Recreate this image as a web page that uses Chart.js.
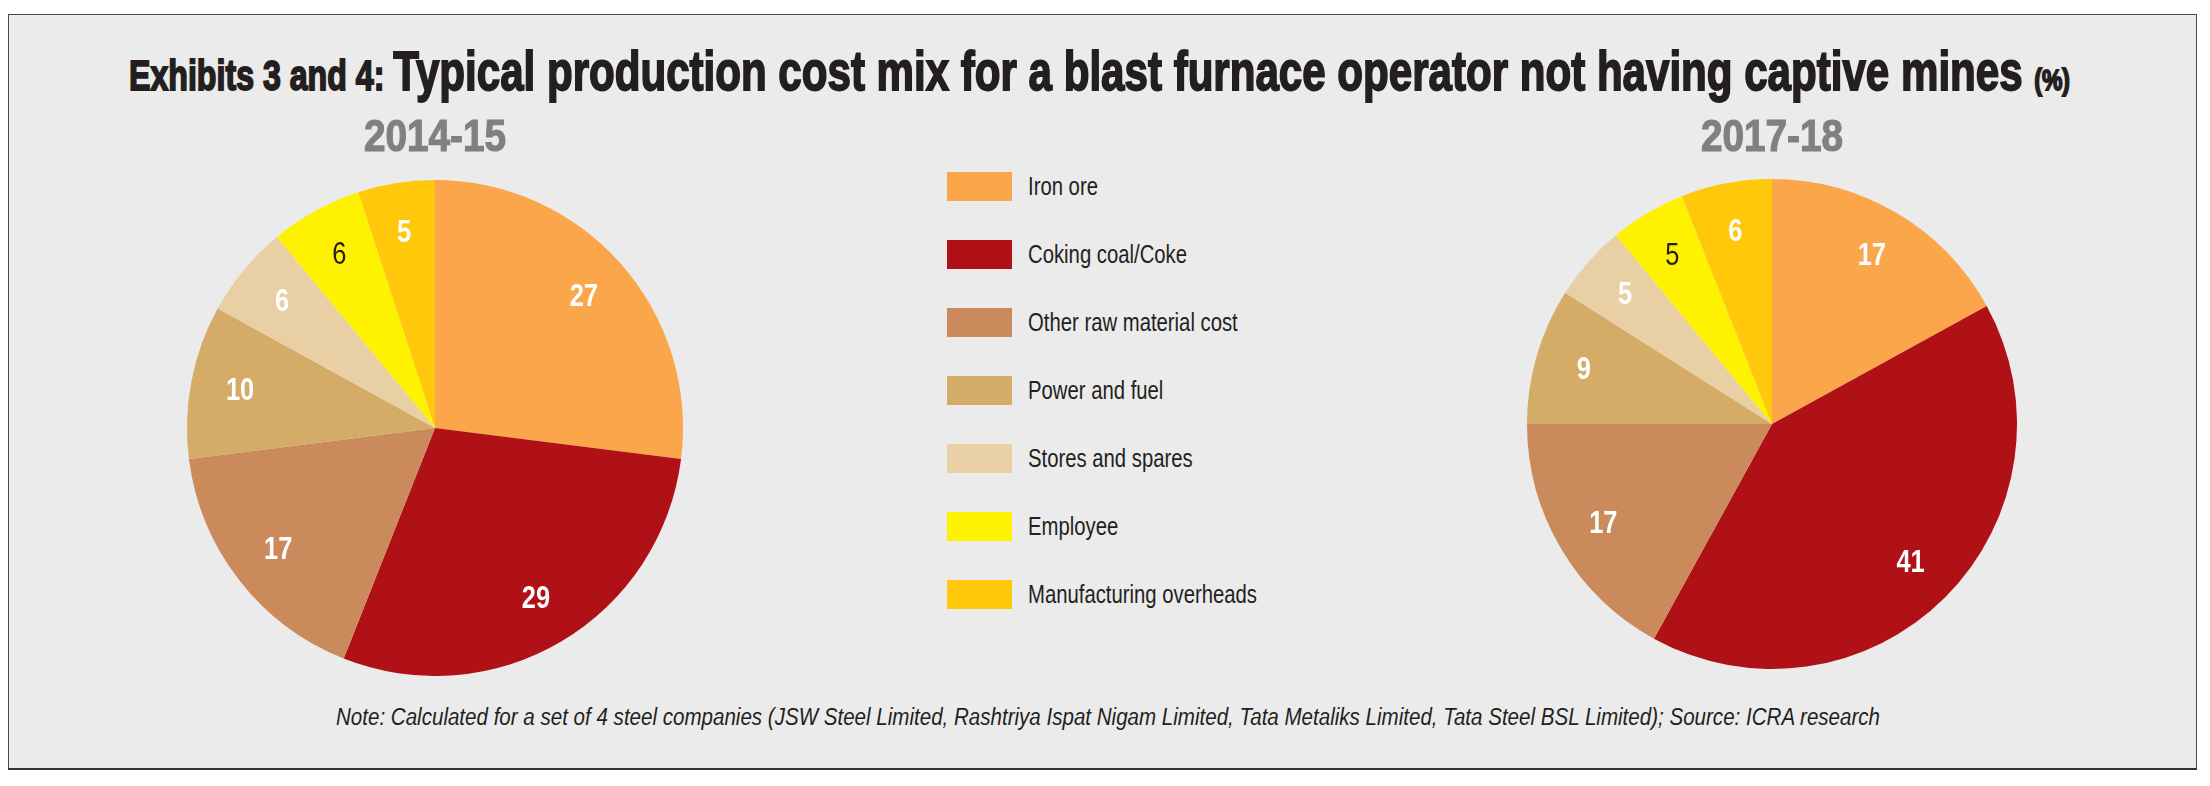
<!DOCTYPE html>
<html>
<head>
<meta charset="utf-8">
<script src="https://cdn.jsdelivr.net/npm/chart.js@4.4.1/dist/chart.umd.min.js"></script>
<style>
    body { margin: 0; width: 2210px; height: 786px; background: #fff; overflow: hidden; position: relative; }
    .frame { position: absolute; left: 8px; top: 14px; width: 2187px; height: 753px; background: #ebebeb;
             border: 1px solid #4a4a4a; border-bottom: 2px solid #333; }
    .narrow { font-family: "Liberation Sans Narrow", "Arial Narrow", "Liberation Sans", sans-serif; }
    #title { position: absolute; left: 129px; top: 41px; white-space: nowrap; color: #231f20; font-weight: bold;
             transform-origin: 0 0; -webkit-text-stroke: 1.8px #231f20; line-height: 60px; }
    #title .s { font-size: 42px; }
    #title .b { font-size: 55px; }
    #title .p { font-size: 30px; }
    canvas { position: absolute; }
    #legend { position: absolute; left: 947px; top: 172px; }
    .item { position: absolute; left: 0; width: 400px; height: 29px; }
    .sw { position: absolute; left: 0; top: 0; width: 65px; height: 29px; }
    .lab { position: absolute; left: 81px; top: 0; line-height: 29px; font-size: 25px; color: #231f20;
           white-space: nowrap; transform-origin: 0 50%; }
    #note { position: absolute; left: 336px; top: 704px; font-size: 23px; font-style: italic; color: #231f20;
            white-space: nowrap; transform-origin: 0 0; }
</style>
</head>
<body>
<div class="frame"></div>
<div id="title" class="narrow"><span class="s">Exhibits 3 and 4: </span><span class="b">Typical production cost mix for a blast furnace operator not having captive mines </span><span class="p">(%)</span></div>
<canvas id="chart1" width="600" height="576" style="left:135px; top:100px;"></canvas>
<canvas id="chart2" width="600" height="569" style="left:1472px; top:100px;"></canvas>
<div id="legend" class="narrow"></div>
<div id="note" class="narrow">Note: Calculated for a set of 4 steel companies (JSW Steel Limited, Rashtriya Ispat Nigam Limited, Tata Metaliks Limited, Tata Steel BSL Limited); Source: ICRA research</div>
<script>
// 원가 구성 데이터
const categories = [
    "Iron ore",
    "Coking coal/Coke",
    "Other raw material cost",
    "Power and fuel",
    "Stores and spares",
    "Employee",
    "Manufacturing overheads"
];
const years = ["2014-15", "2017-18"];
const values2014 = [27, 29, 17, 10, 6, 6, 5];
const values2017 = [17, 41, 17, 9, 5, 5, 6];

const colors = ["#FBA64B", "#B01117", "#CB8A5C", "#D4AB67", "#E8CFA4", "#FFF200", "#FFC80B"];
const labelColors = ["#fff", "#fff", "#fff", "#fff", "#fff", "#231f20", "#fff"];
const FONT = '"Liberation Sans Narrow", "Arial Narrow", "Liberation Sans", sans-serif';

// 조각 안에 값 표시 (가로로 좁힌 글꼴)
const valueLabels = {
    id: "valueLabels",
    afterDatasetsDraw(chart) {
        const c = chart.ctx;
        const meta = chart.getDatasetMeta(0);
        const vals = chart.data.datasets[0].data;
        meta.data.forEach((arc, i) => {
            const p = arc.getProps(["x", "y", "startAngle", "endAngle", "outerRadius"], true);
            const mid = (p.startAngle + p.endAngle) / 2;
            const r = p.outerRadius * 0.8;
            c.save();
            c.translate(p.x + Math.cos(mid) * r, p.y + Math.sin(mid) * r + 1);
            c.scale(0.82, 1);
            c.textAlign = "center";
            c.textBaseline = "middle";
            c.fillStyle = labelColors[i];
            c.font = (labelColors[i] === "#fff" ? "bold " : "") + "31px " + FONT;
            c.fillText(vals[i], 0, 0);
            c.restore();
        });
    }
};

// 연도 제목
const yearTitle = {
    id: "yearTitle",
    afterDraw(chart, args, opts) {
        const c = chart.ctx;
        c.save();
        c.translate(chart.width / 2, opts.y);
        c.scale(0.86, 1);
        c.textAlign = "center";
        c.textBaseline = "middle";
        c.font = "bold 45px " + FONT;
        c.fillStyle = "#808080";
        c.strokeStyle = "#808080";
        c.lineWidth = 1.2;
        c.fillText(opts.text, 0, 0);
        c.strokeText(opts.text, 0, 0);
        c.restore();
    }
};

function createConfig(values, year, padTop) {
    return {
        type: "pie",
        data: {
            labels: categories,
            datasets: [{
                data: values,
                backgroundColor: colors,
                borderWidth: 0,
                hoverOffset: 0
            }]
        },
        options: {
            responsive: false,
            animation: false,
            layout: { padding: { top: padTop } },
            plugins: {
                legend: { display: false },
                tooltip: { enabled: false },
                yearTitle: { text: year, y: 39 }
            }
        },
        plugins: [valueLabels, yearTitle]
    };
}

const charts = [
    new Chart(document.getElementById("chart1"), createConfig(values2014, years[0], 80)),
    new Chart(document.getElementById("chart2"), createConfig(values2017, years[1], 79))
];

// 범례
const legend = document.getElementById("legend");
categories.forEach((name, i) => {
    const item = document.createElement("div");
    item.className = "item";
    item.style.top = (i * 68) + "px";
    item.innerHTML = `<div class="sw" style="background:${colors[i]}"></div><div class="lab">${name}</div>`;
    legend.appendChild(item);
});
const labs = [...legend.getElementsByClassName("lab")];
const widest = Math.max(...labs.map(el => el.getBoundingClientRect().width));
labs.forEach(el => el.style.transform = `scaleX(${229 / widest})`);

// 폭 맞추기
function fit(id, width) {
    const el = document.getElementById(id);
    el.style.transform = "none";
    const w = el.getBoundingClientRect().width;
    el.style.transform = `scaleX(${width / w})`;
}
fit("title", 1941);
fit("note", 1544);
</script>
</body>
</html>
